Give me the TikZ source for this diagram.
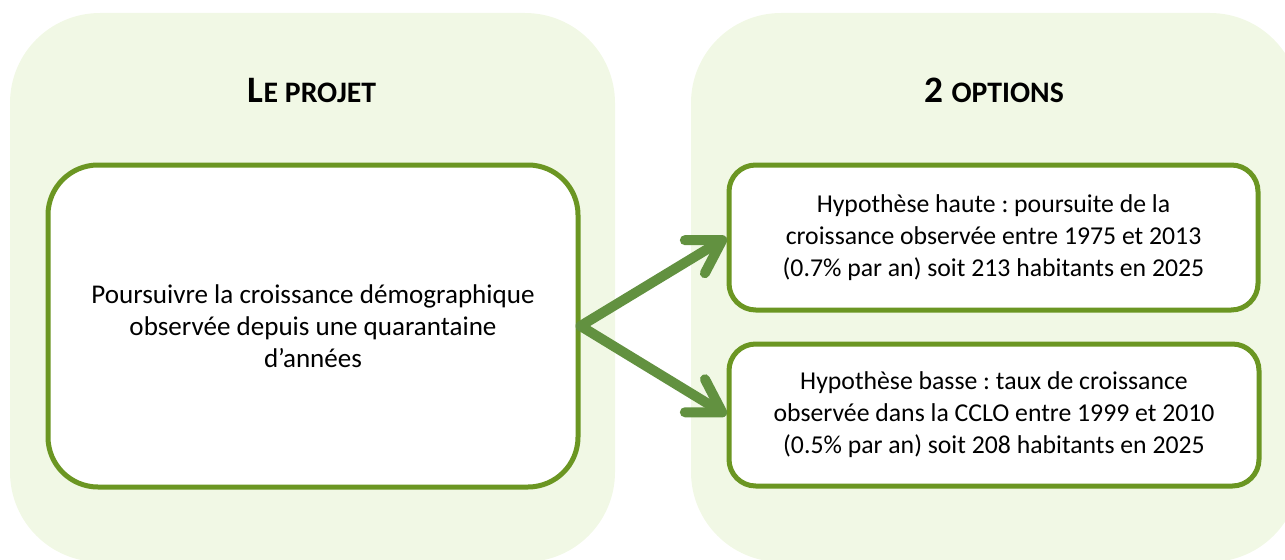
\documentclass[tikz,border=0pt]{standalone}
\usepackage{fontspec}
\setmainfont{Carlito}
\usetikzlibrary{arrows.meta}
\frenchspacing
\definecolor{panelfill}{HTML}{F1F8E5}
\definecolor{boxline}{HTML}{6B9622}
\definecolor{arrowcol}{HTML}{629140}
\tikzset{
  panel/.style={fill=panelfill, draw=none, rounded corners=67.5pt, inner sep=0pt},
  greenbox/.style={fill=white, draw=boxline, line width=3.75pt, inner sep=0pt, align=center,
    font=\fontsize{19.3}{24}\selectfont},
  titletext/.style={inner sep=0pt, anchor=base, font=\bfseries},
  bigarrow/.style={draw=arrowcol, line width=7.5pt, line cap=round,
    -{Straight Barb[length=24pt, width=29pt, line cap=round, line join=round]}}
}
\newcommand{\titlebig}[1]{{\fontsize{28}{30}\selectfont #1}}
\newcommand{\titlesmall}[1]{{\fontsize{22.3}{24}\selectfont #1}}
\begin{document}
\begin{tikzpicture}[x=0.75pt, y=-0.75pt]
\useasboundingbox (0,0) rectangle (1285,560);
\clip (0,0) rectangle (1285,560);
\node[panel, minimum width=453.75pt, minimum height=411.75pt] (lpanel) at (312.5,287.5) {};
\node[panel, minimum width=456.75pt, minimum height=411.75pt] (rpanel) at (995.5,287.5) {};
\node[titletext] (ltitle) at (312,103) {\titlebig{L}\titlesmall{E PROJET}};
\node[titletext] (rtitle) at (994,103) {\titlebig{2 }\titlesmall{OPTIONS}};
\node[greenbox, font=\fontsize{20.3}{24}\selectfont, rounded corners=37.5pt, minimum width=397.5pt, minimum height=241.5pt] (lbox) at (313,326)
  {Poursuivre la croissance démographique\\observée depuis une quarantaine\\d’années};
\node[greenbox, rounded corners=20pt, minimum width=396.75pt, minimum height=108.75pt] (topbox) at (993.5,237.5)
  {Hypothèse haute : poursuite de la\\croissance observée entre 1975 et 2013\\(0.7\% par an) soit 213 habitants en 2025};
\node[greenbox, rounded corners=20pt, minimum width=397.5pt, minimum height=106.5pt] (botbox) at (994,415)
  {Hypothèse basse : taux de croissance\\observée dans la CCLO entre 1999 et 2010\\(0.5\% par an) soit 208 habitants en 2025};
\draw[bigarrow] (lbox.east) -- (topbox.west);
\draw[bigarrow] (lbox.east) -- (botbox.west);
\end{tikzpicture}
\end{document}
